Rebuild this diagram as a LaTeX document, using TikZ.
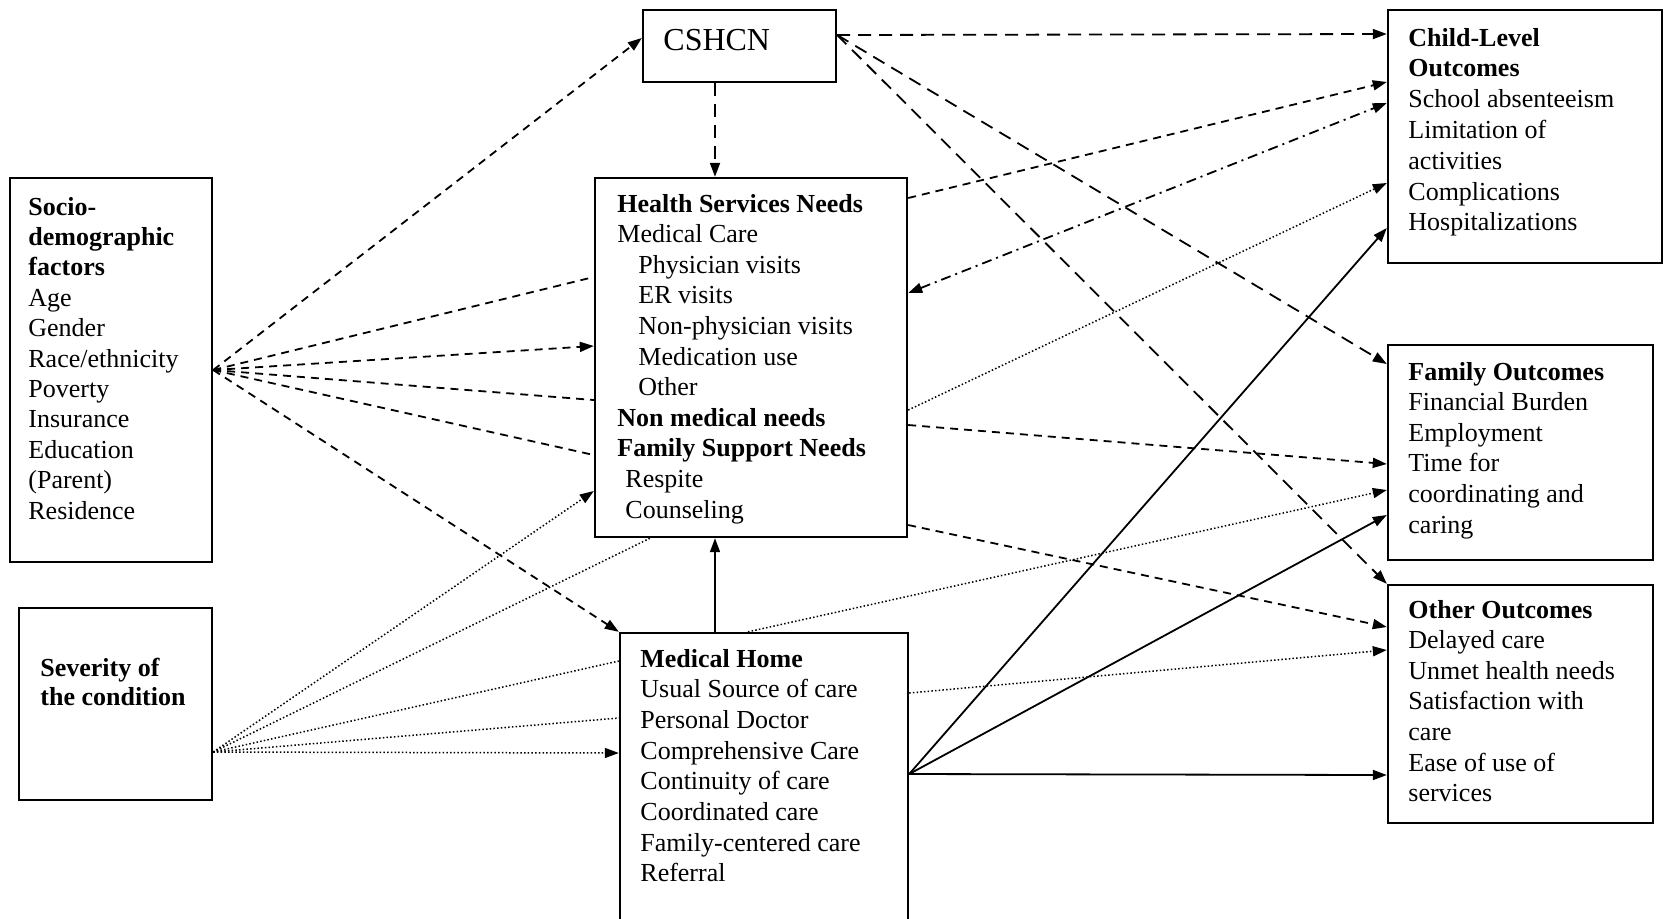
\documentclass[tikz,border=0pt]{standalone}
\usepackage{fontspec}
\setmainfont{Liberation Serif}
\usetikzlibrary{arrows.meta,fit}
\begin{document}
\begin{tikzpicture}[x=0.5pt,y=-0.5pt,
  box/.style={draw,line width=1.2pt,inner sep=0pt},
  txt/.style={anchor=base west,inner sep=0pt,align=left},
  conn/.style={line width=0.9pt},
  sdash/.style={conn,dash pattern=on 4pt off 3pt},
  ldash/.style={conn,dash pattern=on 6.5pt off 4pt},
  dotln/.style={line width=0.75pt,dash pattern=on 0.75pt off 1.1pt},
  dashdot/.style={conn,dash pattern=on 5pt off 2.5pt on 1pt off 2.5pt},
  sol/.style={conn},
  >={Triangle[length=7pt,width=5pt]}
]
\useasboundingbox (0,0) rectangle (1664,918);
\clip (0,0) rectangle (1664,918);

% boxes
\node[box,fit={(643,10) (836,82)}] (cshcn) {};
\node[box,fit={(10,178) (212,562)}] (socio) {};
\node[box,fit={(19,608) (212,800)}] (sev) {};
\node[box,fit={(595,178) (907,537)}] (hsn) {};
\node[box,fit={(620,633) (908,940)}] (mh) {};
\node[box,fit={(1388,10) (1662,263)}] (child) {};
\node[box,fit={(1388,345) (1653,560)}] (fam) {};
\node[box,fit={(1388,585) (1653,823)}] (other) {};

% texts
\node[txt,font=\fontsize{16}{19}\selectfont] (cshcnT) at (663,50) {CSHCN};
\node[txt,font=\fontsize{13}{15.2}\selectfont] (socioT) at (28,215)
 {\begin{tabular}[t]{@{}l@{}}\textbf{Socio-}\\ \textbf{demographic}\\ \textbf{factors}\\ Age\\ Gender\\ Race/ethnicity\\ Poverty\\ Insurance\\ Education\\ (Parent)\\ Residence\end{tabular}};
\node[txt,font=\fontsize{13}{14.5}\selectfont] (sevT) at (40,676)
 {\begin{tabular}[t]{@{}l@{}}\textbf{Severity of}\\ \textbf{the condition}\end{tabular}};
\node[txt,font=\fontsize{13}{15.3}\selectfont] (hsnT) at (617,212)
 {\begin{tabular}[t]{@{}l@{}}\textbf{Health Services Needs}\\ Medical Care\\ \hspace*{10.5pt}Physician visits\\ \hspace*{10.5pt}ER visits\\ \hspace*{10.5pt}Non-physician visits\\ \hspace*{10.5pt}Medication use\\ \hspace*{10.5pt}Other\\ \textbf{Non medical needs}\\ \textbf{Family Support Needs}\\ \hspace*{4pt}Respite\\ \hspace*{4pt}Counseling\end{tabular}};
\node[txt,font=\fontsize{13}{15.35}\selectfont] (mhT) at (640,667)
 {\begin{tabular}[t]{@{}l@{}}\textbf{Medical Home}\\ Usual Source of care\\ Personal Doctor\\ Comprehensive Care\\ Continuity of care\\ Coordinated care\\ Family-centered care\\ Referral\end{tabular}};
\node[txt,font=\fontsize{13}{15.4}\selectfont] (childT) at (1408,46)
 {\begin{tabular}[t]{@{}l@{}}\textbf{Child-Level}\\ \textbf{Outcomes}\\ School absenteeism\\ Limitation of\\ activities\\ Complications\\ Hospitalizations\end{tabular}};
\node[txt,font=\fontsize{13}{15.3}\selectfont] (famT) at (1408,380)
 {\begin{tabular}[t]{@{}l@{}}\textbf{Family Outcomes}\\ Financial Burden\\ Employment\\ Time for\\ coordinating and\\ caring\end{tabular}};
\node[txt,font=\fontsize{13}{15.3}\selectfont] (otherT) at (1408,618)
 {\begin{tabular}[t]{@{}l@{}}\textbf{Other Outcomes}\\ Delayed care\\ Unmet health needs\\ Satisfaction with\\ care\\ Ease of use of\\ services\end{tabular}};

% fan origins
\coordinate (sevO) at (sev.east |- 0,752);
\coordinate (cO) at (cshcn.east |- 0,35);
\coordinate (mO) at (mh.east |- 0,774);

% socio-demographic fan
\draw[sdash,->] (socio.east) -- (cshcn.west |- 0,38);
\draw[sdash] (socio.east) -- (hsn.west |- 0,277);
\draw[sdash,->] (socio.east) -- (hsn.west |- 0,346);
\draw[sdash] (socio.east) -- (hsn.west |- 0,400);
\draw[sdash] (socio.east) -- (hsn.west |- 0,455);
\draw[sdash,->] (socio.east) -- (mh.north west);

% severity fan
\draw[dotln,->] (sevO) -- (hsn.west |- 0,491);
\draw[dotln] (sevO) -- (hsn.south -| 650,0);
\draw[dotln] (sevO) -- (mh.west |- 0,661);
\draw[dotln] (sevO) -- (mh.west |- 0,718);
\draw[dotln,->] (sevO) -- (mh.west |- 0,753);

% CSHCN
\draw[ldash,->] (cshcn.south -| 715,0) -- (hsn.north -| 715,0);
\draw[ldash,->] (cO) -- (child.west |- 0,34);
\draw[ldash,->] (cO) -- (fam.west |- 0,364);
\draw[ldash,->] (cO) -- (other.north west);

% Health services needs
\draw[sdash,->] (hsn.east |- 0,198) -- (child.west |- 0,82);
\draw[dashdot,<->] (hsn.east |- 0,293) -- (child.west |- 0,103);
\draw[dotln,->] (hsn.east |- 0,410) -- (child.west |- 0,183);
\draw[sdash,->] (hsn.east |- 0,425) -- (fam.west |- 0,464);
\draw[sdash,->] (hsn.east |- 0,525) -- (other.west |- 0,627);

% Medical home
\draw[sol,->] (mh.north -| 715,0) -- (hsn.south -| 715,0);
\draw[dotln,->] (mh.north -| 748,0) -- (fam.west |- 0,490);
\draw[dotln,->] (mh.east |- 0,693) -- (other.west |- 0,650);
\draw[sol,->] (mO) -- (child.west |- 0,228);
\draw[sol,->] (mO) -- (fam.west |- 0,515);
\draw[sol,->] (mO) -- (other.west |- 0,775);
\end{tikzpicture}
\end{document}
